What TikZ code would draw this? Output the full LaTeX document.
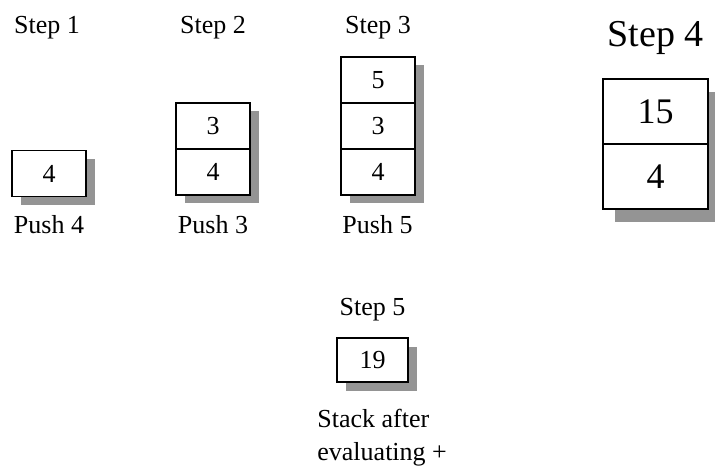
\documentclass[tikz,border=0pt]{standalone}
\usepackage{fontspec}
\setmainfont{Liberation Serif}
\usetikzlibrary{positioning,backgrounds}
\tikzstyle{cell} = [draw, line width=0.65pt, fill=white, outer sep=0pt, inner sep=0pt, minimum width=37pt, minimum height=23pt, font=\fontsize{13}{15}\selectfont]
\tikzstyle{bigcell} = [cell, line width=1pt, minimum width=52.5pt, minimum height=32.5pt, font=\fontsize{18}{21}\selectfont]
\tikzstyle{label} = [anchor=base, inner sep=0pt, font=\fontsize{13}{15}\selectfont]
\tikzstyle{shade} = [fill=black!42]

\begin{document}
\begin{tikzpicture}[x=0.5pt, y=-0.5pt]
    \useasboundingbox (0,0) rectangle (715,466);
    % step 1
    \node [label] (step1) at (47,33) {Step 1};
    \node [cell] (s1a) at (49,173.5) {4};
    \node [label] (push4) at (49,233) {Push 4};
    % step 2
    \node [label] (step2) at (213,33) {Step 2};
    \node [cell] (s2a) at (213,172) {4};
    \node [cell, above=0pt of s2a] (s2b) {3};
    \node [label] (push3) at (213,233) {Push 3};
    % step 3
    \node [label] (step3) at (378,33) {Step 3};
    \node [cell] (s3a) at (378,172) {4};
    \node [cell, above=0pt of s3a] (s3b) {3};
    \node [cell, above=0pt of s3b] (s3c) {5};
    \node [label] (push5) at (377.5,233) {Push 5};
    % step 4
    \node [label, font=\fontsize{19}{22}\selectfont] (step4) at (655.5,46) {Step 4};
    \node [bigcell] (s4a) at (655.5,176.5) {4};
    \node [bigcell, above=0pt of s4a] (s4b) {15};
    % step 5
    \node [label] (step5) at (372.5,315) {Step 5};
    \node [cell, minimum width=35.5pt, minimum height=22pt] (s5a) at (372.5,360) {19};
    \node [anchor=north west, inner sep=0pt, align=left, font=\fontsize{13}{16.5}\selectfont] (after) at (317,409) {Stack after\\evaluating +};
    % shadows
    \begin{scope}[on background layer]
        \fill [shade] ([shift={(9,8)}]s1a.south west) rectangle ([shift={(9,8)}]s1a.north east);
        \fill [shade] ([shift={(9,8)}]s2a.south west) rectangle ([shift={(9,8)}]s2b.north east);
        \fill [shade] ([shift={(9,8)}]s3a.south west) rectangle ([shift={(9,8)}]s3c.north east);
        \fill [shade] ([shift={(12,13)}]s4a.south west) rectangle ([shift={(12,13)}]s4b.north east);
        \fill [shade] ([shift={(9,9)}]s5a.south west) rectangle ([shift={(9,9)}]s5a.north east);
    \end{scope}
\end{tikzpicture}
\end{document}
